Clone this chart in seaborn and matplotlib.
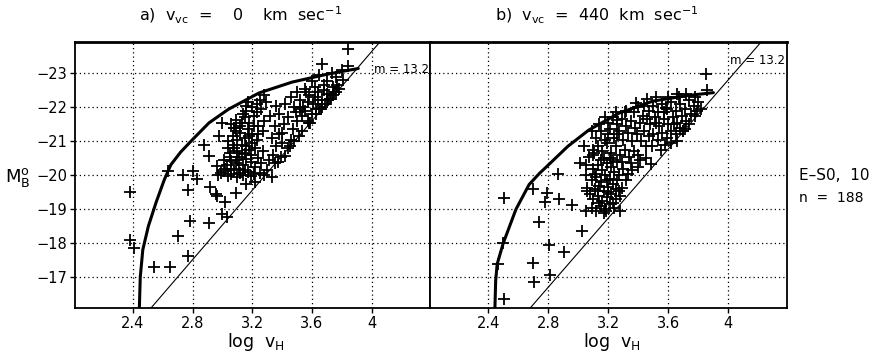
import matplotlib
matplotlib.use("Agg")
import matplotlib.pyplot as plt
import seaborn as sns
import pandas as pd

# ---------------- data ----------------
xticks = [2.4, 2.8, 3.2, 3.6, 4.0]
xtick_labels = ["2.4", "2.8", "3.2", "3.6", "4"]
yticks = [-23, -22, -21, -20, -19, -18, -17]

# panel a) v_vc = 0 : (log v_H, M_B^0)
a_outer = [(2.38, -19.51), (2.384, -18.11), (2.407, -17.86), (2.544, -17.31), (2.649, -17.31),
           (2.70, -18.23), (2.767, -17.62), (2.782, -18.65), (2.91, -18.60), (3.00, -18.86),
           (3.03, -18.78), (2.77, -19.56), (2.83, -19.90), (2.92, -19.66), (2.967, -19.38),
           (3.02, -19.22), (2.955, -19.45), (3.09, -19.49), (3.16, -19.73), (3.22, -19.79),
           (3.33, -19.94), (2.637, -20.12), (2.733, -20.02), (2.80, -20.12), (2.967, -20.26),
           (2.91, -20.56), (2.877, -20.90), (2.977, -21.15), (3.00, -21.54), (3.077, -21.39),
           (3.155, -22.03), (3.277, -22.37)]
a_core = [(2.97, -20.00), (2.99, -20.07), (3.01, -20.12), (3.04, -19.98), (3.06, -20.05),
          (3.08, -20.15), (3.10, -19.95), (3.12, -20.08), (3.14, -20.02), (3.17, -20.10),
          (3.19, -19.98), (3.21, -20.05), (3.25, -20.07), (3.28, -20.02), (3.03, -20.30),
          (3.06, -20.42), (3.09, -20.35), (3.11, -20.55), (3.14, -20.30), (3.16, -20.48),
          (3.19, -20.40), (3.22, -20.25), (3.24, -20.50), (3.05, -20.65), (3.08, -20.80),
          (3.10, -20.70), (3.13, -20.90), (3.15, -20.62), (3.18, -20.75), (3.20, -20.95),
          (3.04, -21.00), (3.07, -21.15), (3.10, -21.05), (3.12, -21.25), (3.15, -21.10),
          (3.17, -21.35), (3.20, -21.20), (3.23, -21.05), (3.06, -21.50), (3.09, -21.62),
          (3.12, -21.45), (3.15, -21.70), (3.18, -21.55), (3.21, -21.75), (3.24, -21.45),
          (3.16, -21.90), (3.20, -22.00), (3.23, -21.85), (3.26, -21.95), (3.28, -21.60),
          (3.29, -22.15), (3.25, -22.20), (3.02, -20.20), (3.05, -20.55), (3.07, -20.90),
          (3.09, -21.30), (3.11, -20.20), (3.13, -20.65), (3.13, -21.55), (3.16, -20.85),
          (3.18, -21.15), (3.19, -20.60), (3.21, -21.45), (3.22, -20.80), (3.24, -21.20),
          (3.26, -20.35), (3.27, -20.70), (3.27, -21.30), (3.06, -20.20), (3.10, -20.45),
          (3.14, -21.80), (3.17, -22.15), (3.23, -22.10), (3.01, -20.45), (3.04, -20.80),
          (3.08, -21.40), (3.15, -20.15)]
a_arm = [(3.31, -20.45), (3.34, -20.60), (3.37, -20.40), (3.42, -20.56), (3.36, -20.85),
         (3.40, -20.95), (3.44, -20.80), (3.33, -21.10), (3.38, -21.20), (3.46, -21.05),
         (3.51, -21.15), (3.35, -21.45), (3.41, -21.50), (3.47, -21.35), (3.32, -21.75),
         (3.38, -21.80), (3.44, -21.70), (3.50, -21.60), (3.36, -22.05), (3.42, -22.10),
         (3.30, -20.15), (3.35, -20.35), (3.39, -20.55), (3.45, -20.85), (3.48, -21.00),
         (3.53, -21.30), (3.58, -21.55), (3.63, -21.80), (3.67, -22.00), (3.40, -21.25)]
a_upper = [(3.48, -22.00), (3.52, -22.20), (3.55, -21.90), (3.58, -22.35), (3.61, -22.10),
           (3.64, -22.45), (3.67, -22.20), (3.70, -22.40), (3.73, -22.25), (3.53, -21.75),
           (3.57, -21.60), (3.60, -21.80), (3.63, -21.95), (3.66, -21.95), (3.69, -22.10),
           (3.72, -22.25), (3.75, -22.45), (3.76, -22.45), (3.55, -22.55), (3.62, -22.60),
           (3.68, -22.65), (3.50, -22.45), (3.74, -22.60), (3.78, -22.55), (3.46, -22.30),
           (3.49, -21.85), (3.54, -22.00), (3.57, -22.15), (3.59, -21.55), (3.62, -22.30),
           (3.65, -21.95), (3.68, -22.50), (3.71, -22.20), (3.74, -22.35), (3.77, -22.65),
           (3.56, -22.45), (3.64, -22.20), (3.70, -22.20), (3.52, -21.95),
           (3.60, -22.76), (3.70, -22.76), (3.667, -23.26), (3.733, -23.01), (3.80, -23.11),
           (3.844, -23.70), (3.84, -23.20), (3.65, -22.95), (3.76, -22.90), (3.81, -22.80)]

# envelope curve and m = 13.2 limit line, panel a
a_curve_logv = [2.444, 2.45, 2.467, 2.504, 2.555, 2.611, 2.655, 2.72, 2.80, 2.91, 3.04,
                3.245, 3.467, 3.69, 3.81, 3.91]
a_curve_mag = [-16.1, -17.0, -17.81, -18.5, -19.19, -19.87, -20.31, -20.68, -21.05, -21.54,
               -21.94, -22.42, -22.74, -22.96, -23.06, -23.14]
a_lim_logv = [2.522, 4.055]
a_lim_mag = [-16.1, -23.92]

# panel b) v_vc = 440
b_outer = [(2.507, -16.35), (2.463, -17.40), (2.50, -18.00), (2.696, -17.42), (2.707, -16.86),
           (2.813, -17.07), (2.807, -17.96), (2.903, -17.74), (2.74, -18.64), (3.023, -18.37),
           (2.507, -19.33), (2.696, -19.60), (2.79, -19.48), (2.778, -19.21), (2.873, -19.30),
           (2.956, -19.14), (2.865, -20.05), (3.05, -18.95), (3.01, -20.36), (3.05, -20.02),
           (3.06, -19.63), (3.06, -19.53), (3.28, -18.94), (3.29, -19.63), (3.27, -19.53),
           (3.185, -18.94), (3.485, -20.32), (3.85, -22.98), (3.86, -22.50), (3.66, -22.39),
           (3.72, -22.39), (3.385, -22.13), (3.32, -21.90), (3.26, -21.64), (3.196, -21.20),
           (3.096, -20.75), (3.585, -21.97), (3.696, -21.29), (3.66, -21.00), (3.04, -20.85),
           (3.107, -20.66), (3.26, -21.20)]
b_core = [(3.09, -19.05), (3.12, -18.95), (3.15, -19.10), (3.18, -19.00), (3.21, -19.15),
          (3.24, -19.05), (3.10, -19.30), (3.13, -19.40), (3.16, -19.25), (3.19, -19.35),
          (3.22, -19.45), (3.25, -19.30), (3.11, -19.60), (3.14, -19.70), (3.17, -19.55),
          (3.20, -19.65), (3.23, -19.75), (3.26, -19.85), (3.09, -19.85), (3.12, -19.95),
          (3.15, -19.80), (3.18, -20.00), (3.21, -19.90), (3.24, -20.10), (3.27, -20.00),
          (3.10, -20.20), (3.13, -20.30), (3.16, -20.15), (3.19, -20.35), (3.22, -20.25),
          (3.30, -20.20), (3.32, -19.85), (3.17, -18.90), (3.20, -19.50), (3.14, -19.20),
          (3.08, -19.45), (3.28, -19.40), (3.23, -19.20), (3.11, -20.05), (3.26, -20.40),
          (3.15, -20.45), (3.19, -19.85), (3.13, -19.55), (3.25, -19.60), (3.21, -20.50)]
b_mid = [(3.10, -20.60), (3.13, -20.85), (3.16, -20.70), (3.19, -20.95), (3.22, -20.65),
         (3.25, -20.85), (3.28, -20.60), (3.31, -20.75), (3.34, -20.55), (3.37, -20.70),
         (3.40, -20.60), (3.12, -21.10), (3.15, -21.30), (3.18, -21.05), (3.21, -21.35),
         (3.24, -21.10), (3.27, -21.30), (3.30, -21.05), (3.33, -21.25), (3.36, -21.00),
         (3.39, -21.20), (3.42, -21.00), (3.45, -20.85), (3.20, -21.55), (3.23, -21.70),
         (3.26, -21.50), (3.29, -21.65), (3.32, -21.45), (3.35, -21.60), (3.38, -21.40),
         (3.41, -21.55), (3.44, -21.30), (3.29, -20.40), (3.35, -20.35), (3.41, -20.45),
         (3.17, -20.50), (3.23, -20.45), (3.31, -21.85), (3.37, -21.85), (3.43, -21.75),
         (3.14, -21.50), (3.47, -21.15), (3.36, -20.15), (3.40, -20.25), (3.45, -20.50),
         (3.33, -20.05), (3.07, -20.55), (3.05, -20.30), (3.09, -21.30), (3.18, -21.70),
         (3.25, -21.85)]
b_upper = [(3.48, -21.50), (3.51, -21.70), (3.54, -21.45), (3.57, -21.65), (3.60, -21.50),
           (3.63, -21.70), (3.66, -21.55), (3.69, -21.75), (3.72, -21.60), (3.75, -21.80),
           (3.78, -21.75), (3.47, -21.90), (3.50, -22.05), (3.53, -21.85), (3.56, -22.10),
           (3.59, -21.95), (3.62, -22.15), (3.65, -21.90), (3.68, -22.10), (3.71, -21.95),
           (3.74, -22.20), (3.77, -22.05), (3.80, -22.15), (3.50, -21.20), (3.53, -21.05),
           (3.56, -21.25), (3.59, -21.10), (3.62, -21.30), (3.65, -21.20), (3.68, -21.40),
           (3.71, -21.35), (3.74, -21.50), (3.58, -20.90), (3.62, -20.95), (3.55, -20.75),
           (3.49, -20.85), (3.44, -22.05), (3.40, -22.00), (3.46, -22.25), (3.52, -22.30),
           (3.78, -22.30), (3.82, -21.95), (3.60, -22.30), (3.67, -22.30), (3.46, -21.65),
           (3.52, -21.55), (3.57, -21.85), (3.64, -21.50), (3.70, -21.30), (3.79, -21.90)]

b_curve_logv = [2.445, 2.45, 2.46, 2.50, 2.585, 2.673, 2.74, 2.80, 2.93, 3.07, 3.273,
                3.496, 3.718, 3.90]
b_curve_mag = [-16.1, -16.9, -17.39, -18.0, -19.0, -19.73, -20.05, -20.3, -20.85, -21.33,
               -21.83, -22.18, -22.34, -22.43]
b_lim_logv = [2.68, 4.218]
b_lim_mag = [-16.1, -23.92]

# ---------------- figure ----------------
sns.set_theme(style="white")
plt.rcParams["font.family"] = ["DejaVu Sans"]
plt.rcParams["mathtext.default"] = "regular"
plt.rcParams["text.color"] = "black"
plt.rcParams["axes.labelcolor"] = "black"
plt.rcParams["xtick.color"] = "black"
plt.rcParams["ytick.color"] = "black"

fig = plt.figure(figsize=(8.7, 3.51), dpi=100)
axa = fig.add_axes([0.0862, 0.1225, 0.408, 0.758])
axb = fig.add_axes([0.4943, 0.1225, 0.4103, 0.758], sharey=axa)


def draw(ax, pts, cx, cm, lx, lm):
    df = pd.DataFrame(pts, columns=["logv", "mag"])
    sns.scatterplot(data=df, x="logv", y="mag", marker="+", s=85, color="black",
                    linewidth=1.3, ax=ax, legend=False, zorder=3)
    sns.lineplot(x=cx, y=cm, sort=False, estimator=None, color="black", lw=2.2, ax=ax, zorder=4)
    sns.lineplot(x=lx, y=lm, sort=False, estimator=None, color="black", lw=0.8, ax=ax, zorder=4)
    ax.set_xlim(2.013, 4.39)
    ax.set_ylim(-16.1, -23.92)
    ax.set_xticks(xticks)
    ax.set_xticklabels(xtick_labels)
    ax.set_yticks(yticks)
    ax.grid(True, color="black", linestyle=(0, (1, 2.4)), lw=0.9)
    ax.set_axisbelow(True)
    for s in ax.spines.values():
        s.set_color("black")
        s.set_linewidth(1.3)
    ax.spines["top"].set_linewidth(2.0)
    ax.tick_params(axis="both", which="major", direction="out", length=3.5, width=1.0,
                   color="black", labelcolor="black", labelsize=10.5, pad=2,
                   bottom=True, left=True)
    ax.set_xlabel(r"log  $v_H$", fontsize=12.5, color="black")
    ax.xaxis.set_label_coords(0.51, -0.085)
    ax.set_ylabel("")


draw(axa, a_outer + a_core + a_arm + a_upper, a_curve_logv, a_curve_mag, a_lim_logv, a_lim_mag)
draw(axb, b_outer + b_core + b_mid + b_upper, b_curve_logv, b_curve_mag, b_lim_logv, b_lim_mag)

axb.tick_params(axis="y", left=False, labelleft=False)

axa.set_ylabel(r"$M_B^o$", rotation=0, fontsize=13, ha="center", va="center")
axa.yaxis.set_label_coords(-0.16, 0.49)

axa.text(4.385, -23.12, "m = 13.2", fontsize=8.5, ha="right", va="center", zorder=5)
axb.text(4.375, -23.38, "m = 13.2", fontsize=8.5, ha="right", va="center", zorder=5)

fig.text(0.276, 0.955, r"a)  $v_{vc}$  =    0    km  sec$^{-1}$", fontsize=11.5,
         ha="center", va="center")
fig.text(0.686, 0.955, r"b)  $v_{vc}$  =  440  km  sec$^{-1}$", fontsize=11.5,
         ha="center", va="center")

fig.text(0.918, 0.50, "E\u2013S0,  10", fontsize=11, ha="left", va="center")
fig.text(0.918, 0.436, "n  =  188", fontsize=10, ha="left", va="center")

fig.savefig("out.png", dpi=100)
